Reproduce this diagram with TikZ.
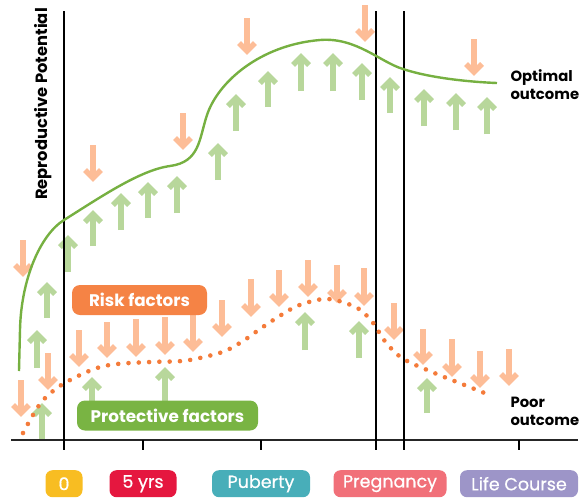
\documentclass[tikz,border=0pt]{standalone}
\usepackage{fontspec}
\setmainfont{Poppins}
\usetikzlibrary{positioning}

\definecolor{riskpill}{HTML}{F58345}
\definecolor{riskdot}{HTML}{F47B3A}
\definecolor{risklight}{HTML}{FDBD97}
\definecolor{protpill}{HTML}{79B443}
\definecolor{protcurve}{HTML}{76B041}
\definecolor{protlight}{HTML}{B8D79B}
\definecolor{stagezero}{HTML}{F8BD22}
\definecolor{stagefive}{HTML}{E5173F}
\definecolor{stagepub}{HTML}{48AEB9}
\definecolor{stagepreg}{HTML}{F17079}
\definecolor{stagelife}{HTML}{9D95C8}

\tikzset{
  upfactor/.style={draw=protlight, line width=5.5pt},
  downfactor/.style={draw=risklight, line width=5.5pt},
  agebar/.style={draw=black, line width=1.1pt},
  pill/.style={rounded corners=8pt, text=white, font=\bfseries\fontsize{16.8}{19}\selectfont,
    inner sep=0pt, minimum height=30pt},
  stage/.style={rounded corners=7pt, text=white,
    font=\fontsize{17.5}{20}\selectfont\addfontfeature{FakeBold=0.6},
    inner sep=0pt, minimum height=27pt},
  outcome/.style={anchor=west, align=left, font=\bfseries\fontsize{14.8}{18}\selectfont},
}

\begin{document}
\begin{tikzpicture}[x=1pt,y=-1pt]
  \useasboundingbox (0,0) rectangle (580,499);
  % protective factors (up)
  \foreach \x/\t/\b in {68/235/272, 93/210/246, 121/193/230, 148/182/218, 177/176/213,
      218/143/180, 236/94/131, 268/71/107, 301/53/91, 333/53/91, 362/63/100, 390/77/113,
      424/89/126, 456/93/130, 487/97/134, 47/282/318, 37/330/368, 42/403/440,
      92/377/402, 165/367/402, 305/312/350, 359/321/358, 427/378/413}
  {
    \draw[upfactor] (\x,\b) -- (\x,\t+3);
    \draw[upfactor,line join=miter] (\x-8,\t+12) -- (\x,\t+4) -- (\x+8,\t+12);
  }
  % risk factors (down)
  \foreach \x/\t/\b in {23/240/277, 93/145/182, 183/113/150, 247/18/55, 365/5/42,
      474/39/76, 21/380/417, 48/353/390, 79/330/367, 107/322/358, 136/319/357,
      165/317/355, 193/315/352, 222/300/337, 251/279/317, 279/270/307, 308/260/297,
      337/265/303, 364/268/306, 394/303/340, 423/329/365, 452/339/377, 480/351/388,
      509/349/386}
  {
    \draw[downfactor] (\x,\t) -- (\x,\b-3);
    \draw[downfactor,line join=miter] (\x-8,\b-12) -- (\x,\b-4) -- (\x+8,\b-12);
  }

  % axes and ages
  \draw[line width=1.4pt,black!85] (11,440) -- (578,440);
  \foreach \x/\name in {64/age0, 143/age5, 261/agepub, 376/agepregA, 404/agepregB, 519/agelife}
    \draw[agebar] (\x,440) -- (\x,450) coordinate (\name);
  \foreach \x in {64, 376, 404}
    \draw[agebar] (\x,11) -- (\x,440);
  \coordinate (agepreg) at (390,450);

  % trajectories
  \draw[protcurve, line width=2.4pt] (19,371) -- (20,330)
    .. controls (21,280) and (40,235) .. (64,220)
    .. controls (100,197.5) and (140,170) .. (170,166)
    .. controls (200,162) and (199,139) .. (207,115)
    .. controls (218,82) and (260,45) .. (320,40)
    .. controls (356,37) and (380,62) .. (403,69)
    .. controls (430,78) and (470,82) .. (497,83);
  \draw[riskdot, line width=4.6pt, line cap=round, dash pattern=on 0pt off 10.3pt]
    plot[smooth, tension=0.6] coordinates {
    (23,433) (40,404) (57,388) (76,377) (97,368) (117,364) (150,362) (182,361)
    (204,357) (225,351) (243,341) (260,329) (278,317) (297,306) (317,300) (328,299)
    (339,301) (359,309) (374,324) (384,340) (402,358) (432,372) (462,384) (492,396)};

  % labels
  \node[pill, fill=riskpill, minimum width=135pt] (risk) at (139.5,300) {Risk factors};
  \node[pill, fill=protpill, minimum width=181pt] (protect) at (167.5,415.5) {Protective factors};
  \node[rotate=90, font=\bfseries\fontsize{16.3}{18}\selectfont] (potential) at (43,104) {Reproductive Potential};
  \node[outcome] (optimal) at (507,85) {Optimal\\outcome};
  \node[outcome] (poor) at (507,411) {Poor\\outcome};

  \node[stage, fill=stagezero, minimum width=37pt, below=20pt of age0] (zero) {0};
  \node[stage, fill=stagefive, minimum width=67pt, below=20pt of age5] (five) {5 yrs};
  \node[stage, fill=stagepub, minimum width=98pt, below=20pt of agepub] (puberty) {Puberty};
  \node[stage, fill=stagepreg, minimum width=113pt, below=20pt of agepreg] (pregnancy) {Pregnancy};
  \node[stage, fill=stagelife, minimum width=118pt, below=20pt of agelife] (life) {Life Course};
\end{tikzpicture}
\end{document}
